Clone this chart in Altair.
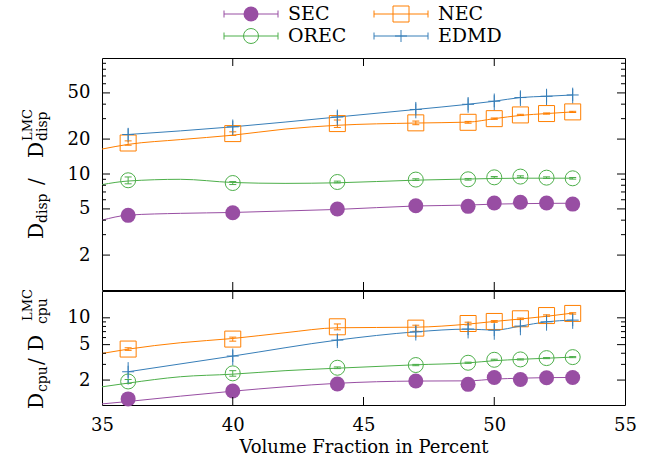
import altair as alt
import pandas as pd

# ---------------- data ----------------
NAMES = ["SEC", "OREC", "NEC", "EDMD"]
COLORS = ["#984ea3", "#4daf4a", "#ff7f00", "#377eb8"]

VOL = [36, 40, 44, 47, 49, 50, 51, 52, 53]

# top panel: D_disp / D_disp^LMC
disp_SEC = [4.40, 4.64, 4.99, 5.33, 5.26, 5.62, 5.70, 5.62, 5.50]
disp_SEC_err = [0.08, 0.08, 0.08, 0.08, 0.08, 0.08, 0.08, 0.08, 0.08]
disp_OREC = [8.83, 8.36, 8.53, 8.95, 9.00, 9.36, 9.50, 9.30, 9.18]
disp_OREC_err = [0.60, 0.25, 0.15, 0.15, 0.15, 0.15, 0.15, 0.15, 0.15]
disp_NEC = [18.5, 22.3, 27.2, 27.6, 27.9, 30.0, 32.3, 33.2, 34.3]
disp_NEC_err = [0.8, 0.8, 2.0, 1.0, 0.5, 0.4, 0.4, 0.4, 0.4]
disp_EDMD = [21.9, 25.5, 31.0, 36.0, 39.9, 42.4, 45.6, 46.8, 48.0]
disp_EDMD_err = [3.1, 4.0, 4.9, 5.8, 6.2, 7.0, 7.0, 7.5, 7.5]

# bottom panel: D_cpu / D_cpu^LMC
cpu_SEC = [1.23, 1.51, 1.81, 1.95, 1.79, 2.14, 2.03, 2.12, 2.14]
cpu_SEC_err = [0.03, 0.03, 0.03, 0.03, 0.03, 0.03, 0.03, 0.03, 0.03]
cpu_OREC = [1.93, 2.38, 2.75, 2.95, 3.13, 3.38, 3.41, 3.53, 3.62]
cpu_OREC_err = [0.10, 0.17, 0.06, 0.05, 0.05, 0.05, 0.05, 0.05, 0.05]
cpu_NEC = [4.46, 5.77, 7.93, 7.66, 8.63, 9.10, 9.75, 10.6, 11.2]
cpu_NEC_err = [0.15, 0.30, 0.60, 0.60, 0.30, 0.20, 0.20, 0.20, 0.20]
cpu_EDMD = [2.48, 3.72, 5.62, 6.96, 7.47, 7.27, 8.07, 9.02, 9.42]
cpu_EDMD_err = [0.70, 0.80, 1.05, 1.40, 1.60, 1.60, 1.70, 1.85, 1.90]

# smooth fit curves
FIT_X = [35, 36, 38, 40, 42, 44, 47, 49, 50, 51, 52, 53]
fit_disp_SEC = [4.00, 4.42, 4.58, 4.66, 4.80, 4.95, 5.30, 5.40, 5.50, 5.55, 5.58, 5.60]
fit_disp_OREC = [8.10, 8.70, 9.00, 8.45, 8.30, 8.40, 8.85, 9.05, 9.15, 9.20, 9.20, 9.20]
fit_disp_NEC = [16.4, 18.0, 19.8, 21.6, 24.4, 26.3, 27.5, 28.0, 30.0, 32.0, 33.2, 34.3]
fit_cpu_SEC = [1.08, 1.15, 1.32, 1.50, 1.68, 1.84, 1.95, 1.96, 2.05, 2.10, 2.13, 2.14]
fit_cpu_OREC = [1.68, 1.85, 2.18, 2.33, 2.55, 2.72, 2.97, 3.12, 3.30, 3.42, 3.52, 3.62]
fit_cpu_NEC = [3.98, 4.45, 5.25, 5.86, 6.80, 7.73, 7.85, 8.50, 9.10, 9.70, 10.4, 11.3]

X_TICKS = [35, 40, 45, 50, 55]
X_INNER_TICKS = [40, 45, 50]
DISP_MAJOR = [2, 5, 10, 20, 50]
DISP_MINOR = [3, 4, 6, 7, 8, 9, 30, 40, 60, 70, 80, 90]
CPU_MAJOR = [2, 5, 10]
CPU_MINOR = [3, 4, 6, 7, 8, 9]

# ---------------- tables ----------------
series = {
    "disp": {"SEC": (disp_SEC, disp_SEC_err), "OREC": (disp_OREC, disp_OREC_err),
             "NEC": (disp_NEC, disp_NEC_err), "EDMD": (disp_EDMD, disp_EDMD_err)},
    "cpu": {"SEC": (cpu_SEC, cpu_SEC_err), "OREC": (cpu_OREC, cpu_OREC_err),
            "NEC": (cpu_NEC, cpu_NEC_err), "EDMD": (cpu_EDMD, cpu_EDMD_err)},
}
fits = {
    "disp": {"SEC": fit_disp_SEC, "OREC": fit_disp_OREC, "NEC": fit_disp_NEC},
    "cpu": {"SEC": fit_cpu_SEC, "OREC": fit_cpu_OREC, "NEC": fit_cpu_NEC},
}

rows = []
for p, d in series.items():
    for s, (vals, errs) in d.items():
        for x, y, e in zip(VOL, vals, errs):
            rows.append({"p": p, "s": s, "x": x, "y": y, "lo": y - e, "hi": y + e})
pts = pd.DataFrame(rows)

frows = []
for p, d in fits.items():
    for s, vals in d.items():
        for x, y in zip(FIT_X, vals):
            frows.append({"p": p, "s": s, "x": x, "y": y})
fitdf = pd.DataFrame(frows)

FONT = "DejaVu Serif"
W = 523
H_TOP = 232
H_BOT = 114

STYLE = {
    "SEC": dict(shape="circle", filled=True, size=225),
    "OREC": dict(shape="circle", filled=False, size=225),
    "NEC": dict(shape="square", filled=False, size=256),
    "EDMD": dict(shape="M-1,0H1M0,-1V1", filled=False, size=144),
}

color = alt.Color("s:N", scale=alt.Scale(domain=NAMES, range=COLORS), legend=None)


def markers(base, xenc, yenc):
    out = []
    for s in NAMES:
        st = STYLE[s]
        out.append(
            base.transform_filter(alt.datum.s == s)
            .mark_point(strokeWidth=1, opacity=1, **st)
            .encode(x=xenc, y=yenc, color=color)
        )
    return out


def title_piece(text, x, y, size):
    return alt.Chart(pd.DataFrame({"a": [0]})).mark_text(
        text=text, angle=270, align="left", baseline="alphabetic",
        font=FONT, fontSize=size, color="black"
    ).encode(x=alt.value(x), y=alt.value(y))


def panel(key, ydom, H, major, minor, xaxis, pieces):
    xs = alt.Scale(domain=[35, 55], nice=False, zero=False)
    ys = alt.Scale(type="log", domain=ydom, nice=False)
    yaxis = alt.Axis(values=major, format="d", ticks=False, domain=False, grid=False,
                     labelPadding=12, labelFontSize=18, labelFont=FONT,
                     labelColor="black", title=None)
    X = alt.X("x:Q", scale=xs, axis=xaxis)
    Y = alt.Y("y:Q", scale=ys, axis=yaxis)

    d = pts[pts.p == key]
    f = fitdf[fitdf.p == key]
    base = alt.Chart(d)

    layers = []
    layers.append(alt.Chart(f).mark_line(interpolate="monotone", strokeWidth=1)
                  .encode(x=X, y=Y, color=color))
    layers.append(base.transform_filter(alt.datum.s == "EDMD")
                  .mark_line(interpolate="monotone", strokeWidth=1)
                  .encode(x=X, y=Y, color=color))
    layers.append(base.mark_rule(strokeWidth=1)
                  .encode(x=X, y=alt.Y("lo:Q", scale=ys, axis=yaxis), y2="hi:Q", color=color))
    layers.append(base.transform_filter(alt.datum.s != "EDMD")
                  .transform_fold(["lo", "hi"], as_=["k", "cy"])
                  .mark_point(shape="M-1,0H1", size=49, filled=False, strokeWidth=1, opacity=1)
                  .encode(x=X, y=alt.Y("cy:Q", scale=ys, axis=yaxis), color=color))
    layers += markers(base, X, Y)

    # inward ticks (gnuplot style), on all four sides
    maj = alt.Chart(pd.DataFrame({"v": major}))
    mnr = alt.Chart(pd.DataFrame({"v": minor}))
    xt = alt.Chart(pd.DataFrame({"v": X_INNER_TICKS}))
    YT = alt.Y("v:Q", scale=ys, axis=yaxis)
    XT = alt.X("v:Q", scale=xs, axis=xaxis)
    layers.append(maj.mark_rule(color="black").encode(y=YT, x=alt.value(0), x2=alt.value(8)))
    layers.append(maj.mark_rule(color="black").encode(y=YT, x=alt.value(W - 8), x2=alt.value(W)))
    layers.append(mnr.mark_rule(color="black").encode(y=YT, x=alt.value(0), x2=alt.value(4)))
    layers.append(mnr.mark_rule(color="black").encode(y=YT, x=alt.value(W - 4), x2=alt.value(W)))
    layers.append(xt.mark_rule(color="black").encode(x=XT, y=alt.value(H), y2=alt.value(H - 8)))
    layers.append(xt.mark_rule(color="black").encode(x=XT, y=alt.value(0), y2=alt.value(8)))

    for (t, x, y, sz) in pieces:
        layers.append(title_piece(t, x, y, sz))

    return alt.layer(*layers).properties(width=W, height=H)


MX, SX, PX = -59, -55, -70
top_pieces = [("D", MX, 181, 20), ("disp", SX, 165, 14), ("/", MX, 127, 20),
              ("D", MX, 100, 20), ("LMC", PX, 83, 13), ("disp", SX, 83, 14)]
bot_pieces = [("D", MX, 118, 20), ("cpu", SX, 101, 14), ("/", MX, 74, 20),
              ("D", MX, 60, 20), ("LMC", PX, 30, 13), ("cpu", SX, 33, 14)]

top = panel("disp", [1, 100], H_TOP, DISP_MAJOR, DISP_MINOR, None, top_pieces)
bot_xaxis = alt.Axis(values=X_TICKS, format="d", ticks=False, domain=False, grid=False,
                     labelFlush=False, labelPadding=11, labelFontSize=18, labelFont=FONT,
                     labelColor="black", title="Volume Fraction in Percent",
                     titleFont=FONT, titleFontSize=18, titleFontWeight="normal",
                     titleColor="black", titlePadding=4)
bot = panel("cpu", [1.05, 20], H_BOT, CPU_MAJOR, CPU_MINOR, bot_xaxis, bot_pieces)

# ---------------- key (two columns) ----------------
LEG_H = 56
LEG_ORDER = ["SEC", "NEC", "OREC", "EDMD"]
LEG_X0, LEG_DX, LEG_Y0, LEG_DY, HALF = 149, 150, 13, 22, 27
krows = []
for i, s in enumerate(LEG_ORDER):
    cx = LEG_X0 + (i % 2) * LEG_DX
    cy = LEG_Y0 + (i // 2) * LEG_DY
    krows.append({"s": s, "cx": cx, "cy": cy, "x1": cx - HALF, "x2": cx + HALF,
                  "ylo": cy - 3.5, "yhi": cy + 3.5, "tx": cx + 37})
kdf = pd.DataFrame(krows)
kxs = alt.Scale(domain=[0, W], nice=False, zero=False)
kys = alt.Scale(domain=[0, LEG_H], nice=False, zero=False, reverse=True)
kb = alt.Chart(kdf)
KX = lambda f: alt.X(f, type="quantitative", scale=kxs, axis=None)
KY = lambda f: alt.Y(f, type="quantitative", scale=kys, axis=None)
klayers = [
    kb.mark_rule(strokeWidth=1).encode(x=KX("x1"), x2="x2", y=KY("cy"), color=color),
    kb.mark_rule(strokeWidth=1).encode(x=KX("x1"), y=KY("ylo"), y2="yhi", color=color),
    kb.mark_rule(strokeWidth=1).encode(x=KX("x2"), y=KY("ylo"), y2="yhi", color=color),
]
klayers += markers(kb, KX("cx"), KY("cy"))
klayers.append(kb.mark_text(align="left", baseline="middle", font=FONT, fontSize=19, color="black")
               .encode(x=KX("tx"), y=KY("cy"), text="s:N"))
key = alt.layer(*klayers).properties(width=W, height=LEG_H,
                                     view=alt.ViewBackground(stroke="transparent"))

chart = (
    alt.vconcat(key, top, bot, spacing=1, bounds="flush")
    .properties(padding={"left": 21, "top": 0, "right": 0, "bottom": 0})
    .configure(font=FONT)
    .configure_view(stroke="black", strokeWidth=1)
)

chart.save("out.html", embed_options={"renderer": "svg", "actions": False})
